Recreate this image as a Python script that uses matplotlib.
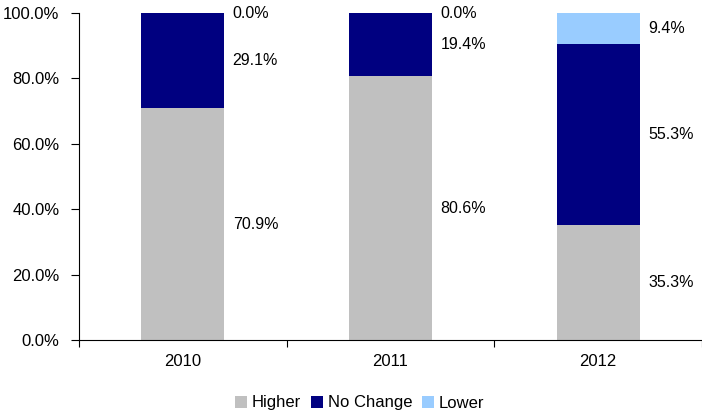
import numpy as np
import matplotlib.pyplot as plt
from matplotlib.ticker import FuncFormatter

plt.rcParams['font.family'] = ['Liberation Sans', 'DejaVu Sans']

years = ['2010', '2011', '2012']
higher = [70.9, 80.6, 35.3]
no_change = [29.1, 19.4, 55.3]
lower = [0.0, 0.0, 9.4]

series = [('Higher', higher, '#c0c0c0'),
          ('No Change', no_change, '#000080'),
          ('Lower', lower, '#99ccff')]

fig = plt.figure(figsize=(7.02, 4.16), dpi=100)
ax = fig.add_axes([79/702, (416-340)/416, (702-79)/702, 327/416])

x = np.arange(len(years))
bottom = np.zeros(len(years))
for name, vals, col in series:
    vals = np.array(vals)
    ax.bar(x, vals, 0.4, bottom=bottom, color=col, label=name, zorder=2)
    # value label to the right of each segment, at its middle
    for xi, b, v in zip(x, bottom, vals):
        ax.text(xi + 0.24, b + v / 2, f'{v:.1f}%', va='center', ha='left', fontsize=11.5)
    bottom += vals

ax.set_xlim(-0.5, 2.5)
ax.set_ylim(0, 100)
ax.set_yticks(np.arange(0, 101, 20))
ax.yaxis.set_major_formatter(FuncFormatter(lambda v, p: f'{v:.1f}%'))
# tick marks between categories, labels under the bars
ax.set_xticks([-0.5, 0.5, 1.5, 2.5])
ax.set_xticklabels([])
ax.set_xticks(x, minor=True)
ax.set_xticklabels(years, minor=True)
ax.tick_params(axis='x', which='minor', length=0, pad=10, labelsize=12)
ax.tick_params(axis='x', which='major', length=5, direction='out')
ax.tick_params(axis='y', length=6, direction='out', labelsize=12, pad=8)
ax.spines['top'].set_visible(False)
ax.spines['right'].set_visible(False)

handles, labels = ax.get_legend_handles_labels()
fig.legend(handles, labels, loc='center', bbox_to_anchor=(360/702, 1 - 403/416), ncol=3,
           frameon=False, fontsize=12, handlelength=0.7, handleheight=0.7,
           handletextpad=0.3, columnspacing=0.6)

fig.savefig('out.png', dpi=100)
